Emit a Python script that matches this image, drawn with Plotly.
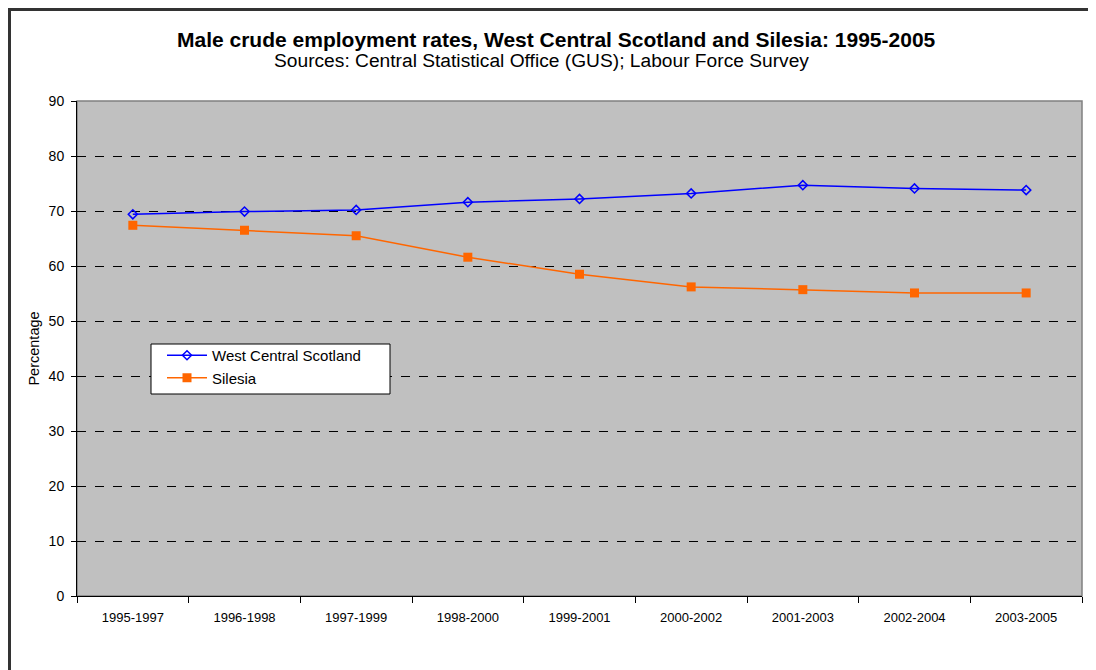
import plotly.graph_objects as go

categories = ["1995-1997", "1996-1998", "1997-1999", "1998-2000", "1999-2001",
              "2000-2002", "2001-2003", "2002-2004", "2003-2005"]
west_central_scotland = [69.4, 69.9, 70.2, 71.6, 72.2, 73.2, 74.7, 74.1, 73.8]
silesia = [67.4, 66.5, 65.5, 61.6, 58.5, 56.2, 55.7, 55.1, 55.1]
y_ticks = [0, 10, 20, 30, 40, 50, 60, 70, 80, 90]

FONT = "Liberation Sans, Arial, sans-serif"

# plot area in page pixels: x 77..1082, y 101..596
def px_x(p):
    return (p - 77) / 1005

def px_y(p):
    return 1 - (p - 101) / 495

fig = go.Figure()
fig.add_trace(go.Scatter(
    x=categories, y=west_central_scotland, name="West Central Scotland",
    mode="lines+markers",
    line=dict(color="#0000FF", width=1.5),
    marker=dict(symbol="diamond-open", size=7, color="#0000FF", line=dict(width=1.5, color="#0000FF")),
))
fig.add_trace(go.Scatter(
    x=categories, y=silesia, name="Silesia",
    mode="lines+markers",
    line=dict(color="#FF6600", width=1.5),
    marker=dict(symbol="square", size=9, color="#FF6600"),
))

fig.update_layout(
    width=1088, height=662,
    margin=dict(l=69, r=14, t=93, b=74),
    paper_bgcolor="white", plot_bgcolor="#C0C0C0",
    font=dict(family=FONT, size=13, color="black"),
    showlegend=True,
    legend=dict(
        x=px_x(162), y=px_y(339), xanchor="left", yanchor="top",
        bgcolor="rgba(0,0,0,0)", bordercolor="rgba(0,0,0,0)", borderwidth=0,
        font=dict(family=FONT, size=15, color="black"),
        itemwidth=40, tracegroupgap=0,
    ),
    xaxis=dict(
        type="category", range=[-0.5, 8.5],
        showline=True, linecolor="#000000", linewidth=1,
        ticks="outside", ticklen=6, tickcolor="#000000", tickson="boundaries",
        tickfont=dict(family=FONT, size=13), showgrid=False,
        zeroline=False, ticklabelstandoff=9,
    ),
    yaxis=dict(
        range=[0, 90], tickvals=y_ticks,
        showline=True, linecolor="#000000", linewidth=1,
        ticks="outside", ticklen=5, tickcolor="#000000",
        tickfont=dict(family=FONT, size=14),
        showgrid=True, gridcolor="#000000", gridwidth=1, griddash="dash",
        zeroline=False, ticklabelstandoff=4,
        title=dict(text="Percentage", font=dict(family=FONT, size=14.5), standoff=5),
    ),
    annotations=[
        dict(text="<b>Male crude employment rates, West Central Scotland and Silesia: 1995-2005</b>",
             xref="paper", yref="paper", x=px_x(556), y=px_y(39),
             xanchor="center", yanchor="middle", showarrow=False,
             font=dict(family=FONT, size=21, color="black")),
        dict(text="Sources: Central Statistical Office (GUS); Labour Force Survey",
             xref="paper", yref="paper", x=px_x(541), y=px_y(61),
             xanchor="center", yanchor="middle", showarrow=False,
             font=dict(family=FONT, size=19.2, color="black")),
    ],
    shapes=[
        dict(type="rect", xref="paper", yref="paper", x0=0, x1=1, y0=0, y1=1,
             line=dict(color="#808080", width=1.5), layer="below"),
        # legend box
        dict(type="rect", xref="paper", yref="paper",
             x0=px_x(151), x1=px_x(390), y0=px_y(394), y1=px_y(344),
             fillcolor="white", line=dict(color="black", width=1), layer="above"),
        # outer chart frame
        dict(type="rect", xref="paper", yref="paper",
             x0=px_x(9.5), x1=1.05, y0=-0.2, y1=px_y(9.5),
             line=dict(color="#333333", width=3)),
    ],
)

fig.write_html("out.html")
